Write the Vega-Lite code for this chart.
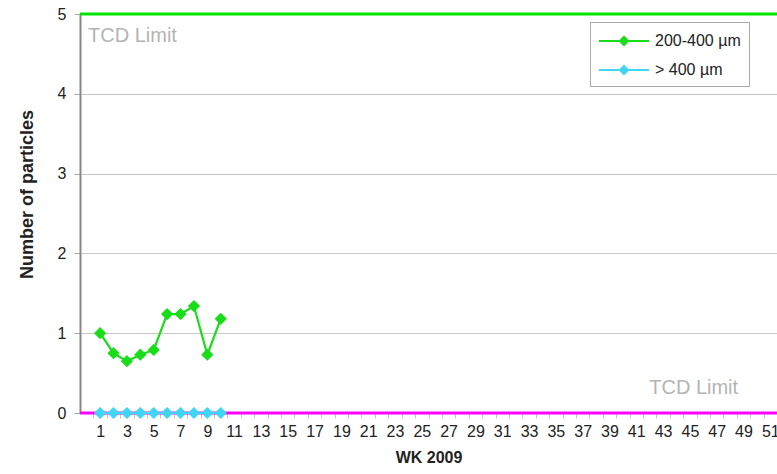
{
  "$schema": "https://vega.github.io/schema/vega-lite/v6.json",
  "autosize": {"type": "none"},
  "width": 697,
  "height": 399,
  "padding": {"left": 80, "top": 14, "right": 0, "bottom": 61},
  "background": "white",
  "config": {
    "font": "Liberation Sans",
    "view": {"stroke": null}
  },
  "resolve": {"axis": {"x": "independent"}},
  "datasets": {
    "series": [
      {"week": 1, "series": "200-400 µm", "count": 1.0},
      {"week": 2, "series": "200-400 µm", "count": 0.75},
      {"week": 3, "series": "200-400 µm", "count": 0.65},
      {"week": 4, "series": "200-400 µm", "count": 0.73},
      {"week": 5, "series": "200-400 µm", "count": 0.79},
      {"week": 6, "series": "200-400 µm", "count": 1.24},
      {"week": 7, "series": "200-400 µm", "count": 1.24},
      {"week": 8, "series": "200-400 µm", "count": 1.34},
      {"week": 9, "series": "200-400 µm", "count": 0.73},
      {"week": 10, "series": "200-400 µm", "count": 1.18},
      {"week": 1, "series": "> 400 µm", "count": 0},
      {"week": 2, "series": "> 400 µm", "count": 0},
      {"week": 3, "series": "> 400 µm", "count": 0},
      {"week": 4, "series": "> 400 µm", "count": 0},
      {"week": 5, "series": "> 400 µm", "count": 0},
      {"week": 6, "series": "> 400 µm", "count": 0},
      {"week": 7, "series": "> 400 µm", "count": 0},
      {"week": 8, "series": "> 400 µm", "count": 0},
      {"week": 9, "series": "> 400 µm", "count": 0},
      {"week": 10, "series": "> 400 µm", "count": 0}
    ],
    "limits": [
      {"limit": "upper", "value": 5},
      {"limit": "lower", "value": 0}
    ],
    "labels": [
      {"text": "TCD Limit", "week": 0.1, "value": 4.73, "pos": "top"},
      {"text": "TCD Limit", "week": 48.6, "value": 0.31, "pos": "bottom"}
    ]
  },
  "layer": [
    {
      "data": {"name": "labels"},
      "transform": [{"filter": "datum.pos == 'top'"}],
      "mark": {"type": "text", "align": "left", "baseline": "middle", "fontSize": 20, "color": "#b4b4b4"},
      "encoding": {
        "x": {"field": "week", "type": "quantitative", "scale": {"domain": [-0.5, 51.5], "nice": false, "zero": false},
          "title": null,
          "axis": {
            "orient": "bottom",
            "values": [0.5,1.5,2.5,3.5,4.5,5.5,6.5,7.5,8.5,9.5,10.5,11.5,12.5,13.5,14.5,15.5,16.5,17.5,18.5,19.5,20.5,21.5,22.5,23.5,24.5,25.5,26.5,27.5,28.5,29.5,30.5,31.5,32.5,33.5,34.5,35.5,36.5,37.5,38.5,39.5,40.5,41.5,42.5,43.5,44.5,45.5,46.5,47.5,48.5,49.5,50.5,51.5],
            "labels": false,
            "tickSize": 5,
            "tickColor": "#c4c4c4",
            "domainColor": "#999999",
            "grid": false
          }
        },
        "y": {"field": "value", "type": "quantitative", "scale": {"domain": [0, 5], "nice": false},
          "title": "Number of particles",
          "axis": {
            "values": [0, 1, 2, 3, 4, 5],
            "format": "d",
            "labelFontSize": 16,
            "labelColor": "#222222",
            "labelPadding": 8,
            "tickSize": 6,
            "tickColor": "#aaaaaa",
            "domainColor": "#888888",
            "domainWidth": 2,
            "gridColor": "#c8c8c8",
            "gridWidth": 1.2,
            "titleFontSize": 18,
            "titleFontWeight": "bold",
            "titleColor": "#222222",
            "titleX": -44,
            "titleY": 180
          }
        },
        "text": {"field": "text"}
      }
    },
    {
      "data": {"name": "labels"},
      "transform": [{"filter": "datum.pos == 'bottom'"}],
      "mark": {"type": "text", "align": "right", "baseline": "middle", "fontSize": 20, "color": "#b4b4b4"},
      "encoding": {
        "x": {"field": "week", "type": "quantitative",
          "title": "WK 2009",
          "axis": {
            "orient": "bottom",
            "values": [1,3,5,7,9,11,13,15,17,19,21,23,25,27,29,31,33,35,37,39,41,43,45,47,49,51],
            "format": "d",
            "ticks": false,
            "domain": false,
            "grid": false,
            "labelOverlap": false,
            "labelFlush": false,
            "labelBound": false,
            "labelFontSize": 16,
            "labelColor": "#222222",
            "labelPadding": 10,
            "titleFontSize": 16,
            "titleFontWeight": "bold",
            "titleColor": "#222222",
            "titlePadding": 10
          }
        },
        "y": {"field": "value", "type": "quantitative"},
        "text": {"field": "text"}
      }
    },
    {
      "data": {"name": "limits"},
      "transform": [{"filter": "datum.limit == 'upper'"}],
      "mark": {"type": "rule", "color": "#00e600", "strokeWidth": 3},
      "encoding": {"y": {"field": "value", "type": "quantitative"}}
    },
    {
      "data": {"name": "limits"},
      "transform": [{"filter": "datum.limit == 'lower'"}],
      "mark": {"type": "rule", "color": "#ff00ff", "strokeWidth": 3},
      "encoding": {"y": {"field": "value", "type": "quantitative"}}
    },
    {
      "data": {"name": "series"},
      "mark": {"type": "line", "strokeWidth": 2.2, "point": {"shape": "diamond", "filled": true, "size": 150, "opacity": 1}},
      "encoding": {
        "x": {"field": "week", "type": "quantitative", "axis": null},
        "y": {"field": "count", "type": "quantitative"},
        "color": {
          "field": "series", "type": "nominal",
          "scale": {"domain": ["200-400 µm", "> 400 µm"], "range": ["#19dd19", "#3fd6f6"]},
          "legend": {
            "title": null,
            "orient": "none",
            "legendX": 510,
            "legendY": 8,
            "direction": "vertical",
            "fillColor": "white",
            "strokeColor": "#aaaaaa",
            "padding": 8,
            "labelFontSize": 16,
            "labelColor": "#222222",
            "symbolType": "M-2.5,0L2.5,0M-0.4,0L0,-0.4L0.4,0L0,0.4Z",
            "symbolSize": 400,
            "symbolStrokeWidth": 2,
            "symbolOffset": 15,
            "rowPadding": 10,
            "labelOffset": 20
          }
        }
      }
    }
  ]
}
